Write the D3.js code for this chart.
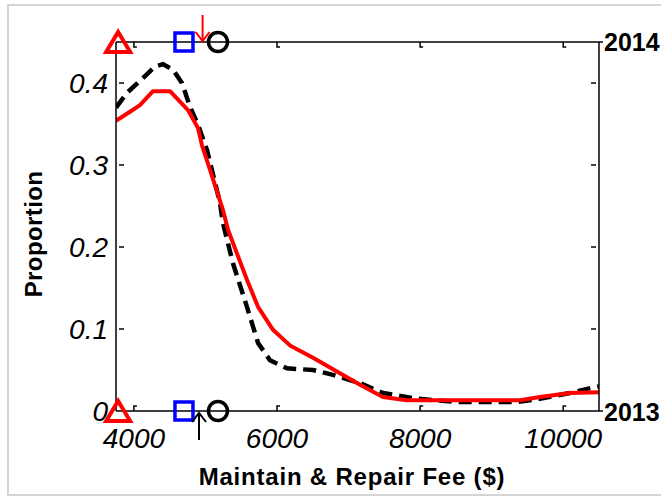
<!DOCTYPE html>
<html>
<head>
<meta charset="utf-8">
<style>
body { margin: 0; background: #fff; }
text { font-family: "Liberation Sans", Arial, sans-serif; fill: #000; }
.tick-lbl { font-size: 28px; font-style: italic; }
.ax-title { font-size: 24px; font-weight: bold; }
.yr { font-size: 25px; font-weight: bold; }
</style>
<script src="https://cdn.jsdelivr.net/npm/d3@7"></script>
</head>
<body>
<script>
// values
var xTicks = [4000, 6000, 8000, 10000];
var yTicks = [0, 0.1, 0.2, 0.3, 0.4];
var yTickLabels = ["0", "0.1", "0.2", "0.3", "0.4"];

// 2013 solid red
var redX = [3750, 3946, 4085, 4267, 4505, 4756, 4896, 4952, 5064, 5245, 5315, 5580, 5735, 5944, 6181, 6503, 6880, 7160, 7480, 7816, 8500, 9396, 9675, 10094, 10500];
var redY = [0.354, 0.365, 0.373, 0.390, 0.390, 0.367, 0.345, 0.324, 0.294, 0.245, 0.221, 0.160, 0.127, 0.099, 0.080, 0.065, 0.046, 0.032, 0.017, 0.013, 0.013, 0.013, 0.017, 0.022, 0.023];

// 2014 dashed black
var blackX = [3750, 3904, 4127, 4295, 4407, 4547, 4672, 4784, 4896, 5022, 5203, 5245, 5385, 5580, 5735, 5902, 6140, 6503, 6782, 7160, 7480, 7956, 8515, 9354, 9675, 10094, 10332, 10500];
var blackY = [0.370, 0.388, 0.406, 0.420, 0.423, 0.416, 0.400, 0.371, 0.349, 0.318, 0.254, 0.229, 0.180, 0.127, 0.083, 0.062, 0.052, 0.050, 0.044, 0.034, 0.022, 0.015, 0.011, 0.011, 0.015, 0.022, 0.027, 0.030];

// marker positions along x
var triX = 3780, sqX = 4700, circX = 5175;
var redArrowX = 4960, blackArrowX = 4910;

var width = 661, height = 498;
var x = d3.scaleLinear().domain([3750, 10500]).range([116, 599]);
var y = d3.scaleLinear().domain([0, 0.45]).range([411, 42]);

var svg = d3.select("body").append("svg")
    .attr("width", width)
    .attr("height", height);

// outer gray frame
svg.append("rect")
    .attr("x", 8).attr("y", 5)
    .attr("width", 700).attr("height", 490)
    .attr("fill", "none")
    .attr("stroke", "#d4d4d4")
    .attr("stroke-width", 2);

svg.append("clipPath").attr("id", "clip")
  .append("rect")
    .attr("x", x(3750)).attr("y", y(0.45))
    .attr("width", x(10500) - x(3750)).attr("height", y(0) - y(0.45));

var line = d3.line()
    .x(function(d) { return x(d[0]); })
    .y(function(d) { return y(d[1]); });

var redData = redX.map(function(v, i) { return [v, redY[i]]; });
var blackData = blackX.map(function(v, i) { return [v, blackY[i]]; });

var g = svg.append("g").attr("clip-path", "url(#clip)");

g.append("path")
    .datum(blackData)
    .attr("d", line)
    .attr("fill", "none")
    .attr("stroke", "#000")
    .attr("stroke-width", 4.5)
    .attr("stroke-dasharray", "13,7");

g.append("path")
    .datum(redData)
    .attr("d", line)
    .attr("fill", "none")
    .attr("stroke", "#ff0000")
    .attr("stroke-width", 4)
    .attr("stroke-linejoin", "round");

// axes box
var box = svg.append("g").attr("stroke", "#000").attr("stroke-width", 1.5).attr("fill", "none");
box.append("line").attr("x1", x(3750)).attr("x2", x(10500)).attr("y1", y(0)).attr("y2", y(0));
box.append("line").attr("x1", x(3750)).attr("x2", x(10500)).attr("y1", y(0.45)).attr("y2", y(0.45));
box.append("line").attr("x1", x(3750)).attr("x2", x(3750)).attr("y1", y(0)).attr("y2", y(0.45));
box.append("line").attr("x1", x(10500)).attr("x2", x(10500)).attr("y1", y(0)).attr("y2", y(0.45));

// x ticks (inside, with the little hook seen in the picture)
xTicks.forEach(function(t) {
  box.append("path").attr("d", "M" + x(t) + "," + y(0) + "v-5h3");
  box.append("path").attr("d", "M" + x(t) + "," + y(0.45) + "v5h3");
});
// y ticks inside on both sides
yTicks.slice(1).forEach(function(t) {
  box.append("line").attr("x1", x(3750) + 3).attr("x2", x(3750) + 8).attr("y1", y(t)).attr("y2", y(t));
  box.append("line").attr("x1", x(10500) - 3).attr("x2", x(10500) - 8).attr("y1", y(t)).attr("y2", y(t));
});
// outward ticks for the year labels on the right
[0, 0.45].forEach(function(t) {
  box.append("line").attr("x1", x(10500)).attr("x2", x(10500) + 4).attr("y1", y(t)).attr("y2", y(t));
});

// tick labels
svg.selectAll(".xl").data(xTicks).enter().append("text")
    .attr("class", "tick-lbl")
    .attr("x", function(d) { return x(d); })
    .attr("y", 448)
    .attr("text-anchor", "middle")
    .text(function(d) { return d; });

svg.selectAll(".yl").data(yTicks).enter().append("text")
    .attr("class", "tick-lbl")
    .attr("x", 108)
    .attr("y", function(d) { return y(d) + 10; })
    .attr("text-anchor", "end")
    .text(function(d, i) { return yTickLabels[i]; });

svg.append("text").attr("class", "yr")
    .attr("x", 604).attr("y", y(0.45) + 9).text("2014");
svg.append("text").attr("class", "yr")
    .attr("x", 604).attr("y", y(0) + 10).text("2013");

// axis titles
svg.append("text").attr("class", "ax-title")
    .attr("x", 352).attr("y", 485)
    .attr("text-anchor", "middle")
    .style("letter-spacing", "0.8px")
    .text("Maintain & Repair Fee ($)");

svg.append("text").attr("class", "ax-title")
    .attr("transform", "translate(42,234) rotate(-90)")
    .attr("text-anchor", "middle")
    .style("letter-spacing", "0.4px")
    .text("Proportion");

// markers on the top and bottom edges
[0, 0.45].forEach(function(t) {
  var cy = y(t);
  var tx = x(triX);
  svg.append("path")
      .attr("d", "M" + tx + "," + (cy - 10) + "L" + (tx + 12) + "," + (cy + 10) + "L" + (tx - 12) + "," + (cy + 10) + "Z")
      .attr("fill", "none").attr("stroke", "#ff0000").attr("stroke-width", 4)
      .attr("stroke-linejoin", "miter");
  svg.append("rect")
      .attr("x", x(sqX) - 9).attr("y", cy - 9)
      .attr("width", 18).attr("height", 18)
      .attr("fill", "none").attr("stroke", "#0000ff").attr("stroke-width", 3.5);
  svg.append("circle")
      .attr("cx", x(circX)).attr("cy", cy).attr("r", 9.5)
      .attr("fill", "none").attr("stroke", "#000").attr("stroke-width", 3.5);
});

// arrows
function arrow(ax, y1, y2, color) {
  var dir = y2 > y1 ? -1 : 1;
  var a = svg.append("g").attr("stroke", color).attr("stroke-width", 2).attr("fill", "none");
  a.append("line").attr("x1", ax).attr("x2", ax).attr("y1", y1).attr("y2", y2);
  a.append("path").attr("d", "M" + (ax - 7) + "," + (y2 + dir * 9) + "L" + ax + "," + y2 + "L" + (ax + 7) + "," + (y2 + dir * 9));
}
arrow(x(redArrowX), 15, y(0.45) - 1, "#ff0000");
arrow(x(blackArrowX), 440, y(0) + 2, "#000");
</script>
</body>
</html>
